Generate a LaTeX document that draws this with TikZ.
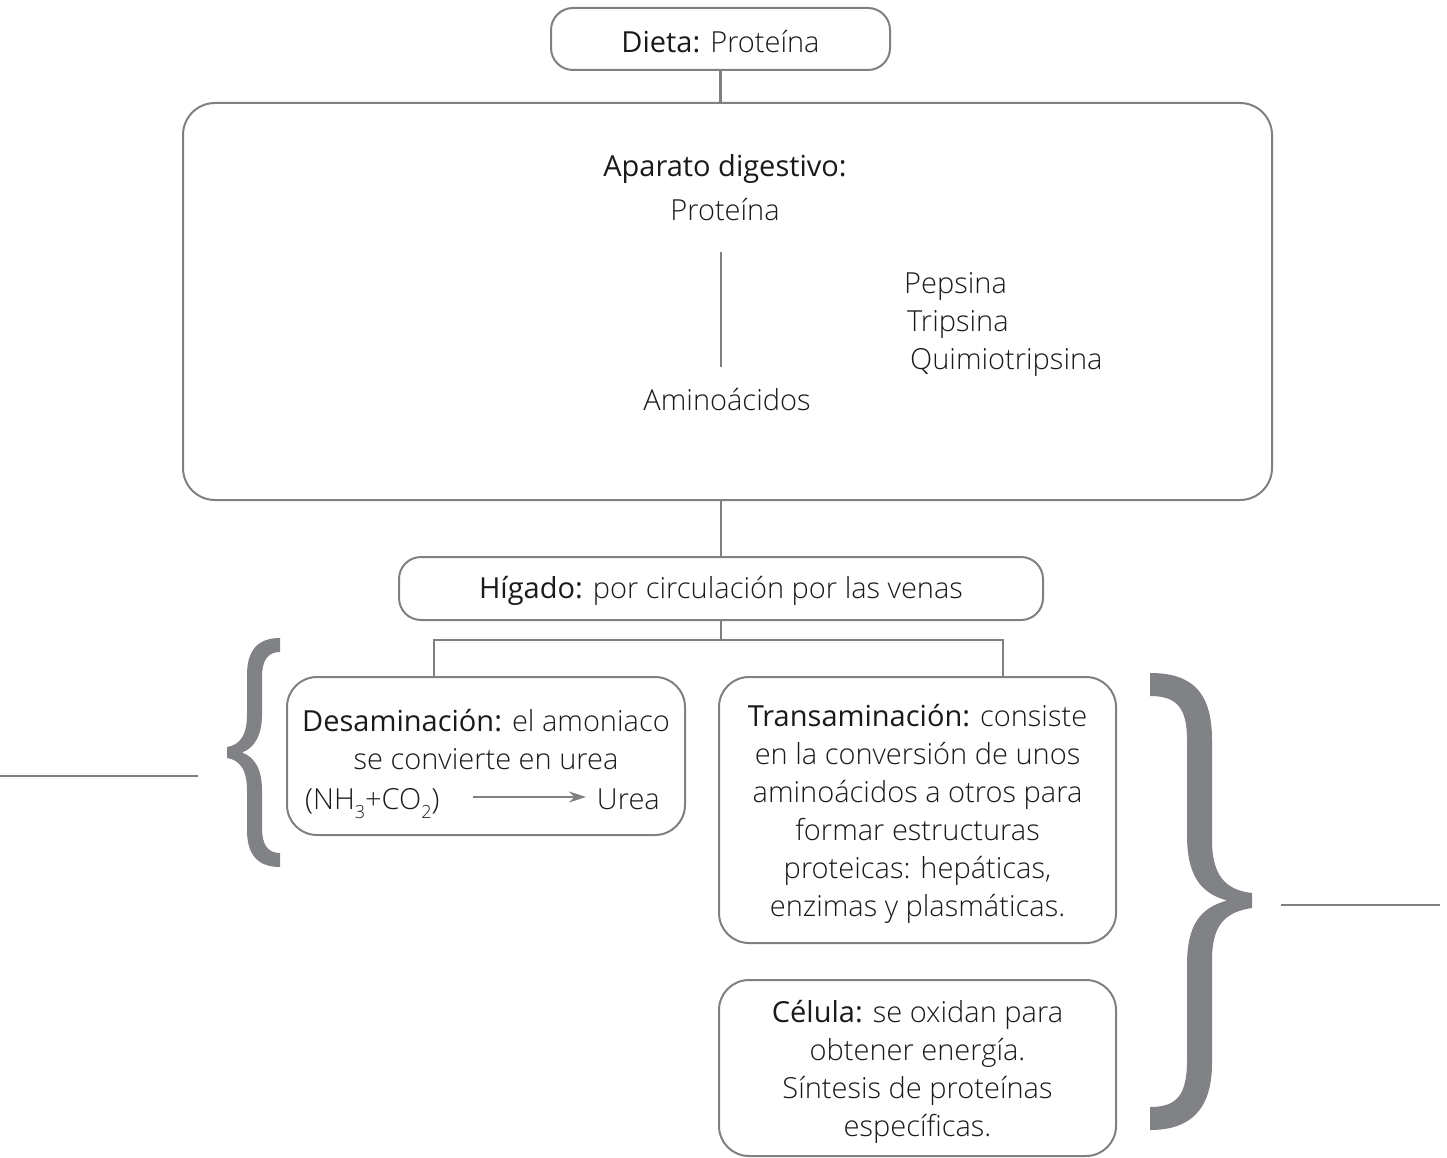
\documentclass[tikz,border=0pt]{standalone}
\usepackage{fontspec}
\setmainfont{Open Sans}[UprightFont={* Light},BoldFont={*}]
\usetikzlibrary{arrows.meta}
\definecolor{linegray}{HTML}{808080}
\definecolor{bracegray}{HTML}{808285}
\definecolor{ink}{HTML}{1A1A1A}
\newcommand{\lbl}[1]{\textbf{#1}}
\newcommand{\fs}{\fontsize{29}{38}\selectfont}
\newcommand{\lowsub}[1]{\raisebox{-0.32em}{\fontsize{18}{18}\selectfont #1}}

\begin{document}
\begin{tikzpicture}[x=1pt,y=-1pt,
  box/.style={draw=linegray,line width=2pt,rounded corners=22pt,inner sep=0pt,
    text=ink,align=center,font=\fs},
  bigbox/.style={box,rounded corners=32pt},
  txt/.style={text=ink,inner sep=0pt,font=\fs,align=center},
  conn/.style={draw=linegray,line width=2.2pt},
  bracefill/.style={fill=bracegray,draw=none},
]
\useasboundingbox (0,0) rectangle (1447,1158);

% main boxes
\node[box,minimum width=339pt,minimum height=62pt] (dieta) at (720.5,39) {};
\node[bigbox,minimum width=1089pt,minimum height=397pt] (digest) at (727.5,301.5) {};
\node[box,minimum width=644pt,minimum height=63pt] (higado) at (721,588.5) {};
\node[box,rounded corners=30pt,minimum width=398pt,minimum height=158pt] (desam) at (486,756) {};
\node[box,rounded corners=30pt,minimum width=397pt,minimum height=266pt] (trans) at (917.5,810) {};
\node[box,rounded corners=30pt,minimum width=397pt,minimum height=176pt] (celula) at (917.5,1068) {};

% box texts
\node[txt] (dietatxt) at (720.5,42) {\lbl{Dieta:} Proteína};
\node[txt] (higadotxt) at (721,591) {\lbl{Hígado:} por circulación por las venas};
\node[txt] (transtxt) at (917.5,814)
  {\lbl{Transaminación:} consiste\\en la conversión de unos\\aminoácidos a otros para\\formar estructuras\\proteicas: hepáticas,\\enzimas y plasmáticas.};
\node[txt] (celulatxt) at (917.5,1072)
  {\lbl{Célula:} se oxidan para\\obtener energía.\\Síntesis de proteínas\\específicas.};

% contents of the digestive box
\node[txt] (aparato) at (725,169) {\lbl{Aparato digestivo:}};
\node[txt] (prot) at (725,210) {Proteína};
\node[txt] (amino) at (727,400) {Aminoácidos};
\node[txt,anchor=west] (pep) at (904,286) {Pepsina};
\node[txt,anchor=west] (trip) at (907,324) {Tripsina};
\node[txt,anchor=west] (quim) at (910,362) {Quimiotripsina};
\coordinate (dtop) at (721,252);
\coordinate (dbot) at (721,367);
\draw[conn] (dtop) -- (dbot);

% contents of the deamination box
\node[txt] (desamtxt) at (486,740) {\lbl{Desaminación:} el amoniaco\\se convierte en urea};
\node[txt,anchor=base west] (nh) at (305,809) {(NH\lowsub{3}+CO\lowsub{2})};
\node[txt,anchor=base east] (urea) at (660,809) {Urea};
\coordinate (arrS) at (473,797);
\coordinate (arrE) at (586,797);
\draw[conn,line width=1.8pt,-{Stealth[length=17pt,width=11pt]}] (arrS) -- (arrE);

% connectors
\draw[conn] (dieta.south) -- (dieta.south |- digest.north);
\draw[conn] (digest.south -| higado.north) -- (higado.north);
\coordinate (split) at (721,640);
\draw[conn] (higado.south) -- (split);
\draw[conn] (434,677) |- (split) -| (1003,677);

% braces and their side lines
\coordinate (leftA) at (0,776);
\coordinate (leftB) at (198,776);
\draw[conn] (leftA) -- (leftB);
\coordinate (rightA) at (1281,905);
\coordinate (rightB) at (1440,905);
\draw[conn] (rightA) -- (rightB);

\path[bracefill] (280,638) .. controls (258,638) and (247,650) .. (247,675) -- (247,715)
  .. controls (247,735) and (240,745) .. (227,747) -- (227,758)
  .. controls (240,760) and (247,770) .. (247,790) -- (247,830)
  .. controls (247,855) and (258,867) .. (280,867) -- (280,853)
  .. controls (268,853) and (262,845) .. (262,828) -- (262,790)
  .. controls (262,770) and (255,757) .. (242,752.5)
  .. controls (255,748) and (262,734) .. (262,715) -- (262,677)
  .. controls (262,660) and (268,652) .. (280,652) -- cycle;

\path[bracefill] (1150,673) .. controls (1190,673) and (1212,690) .. (1212,740) -- (1212,840)
  .. controls (1212,875) and (1225,890) .. (1252,893) -- (1252,908)
  .. controls (1225,912) and (1212,925) .. (1212,960) -- (1212,1063)
  .. controls (1212,1110) and (1190,1130) .. (1150,1130) -- (1150,1107)
  .. controls (1177,1107) and (1187,1095) .. (1187,1060) -- (1187,965)
  .. controls (1187,925) and (1200,908) .. (1227,900.5)
  .. controls (1200,893) and (1187,875) .. (1187,835) -- (1187,740)
  .. controls (1187,708) and (1177,696) .. (1150,696) -- cycle;
\end{tikzpicture}
\end{document}
